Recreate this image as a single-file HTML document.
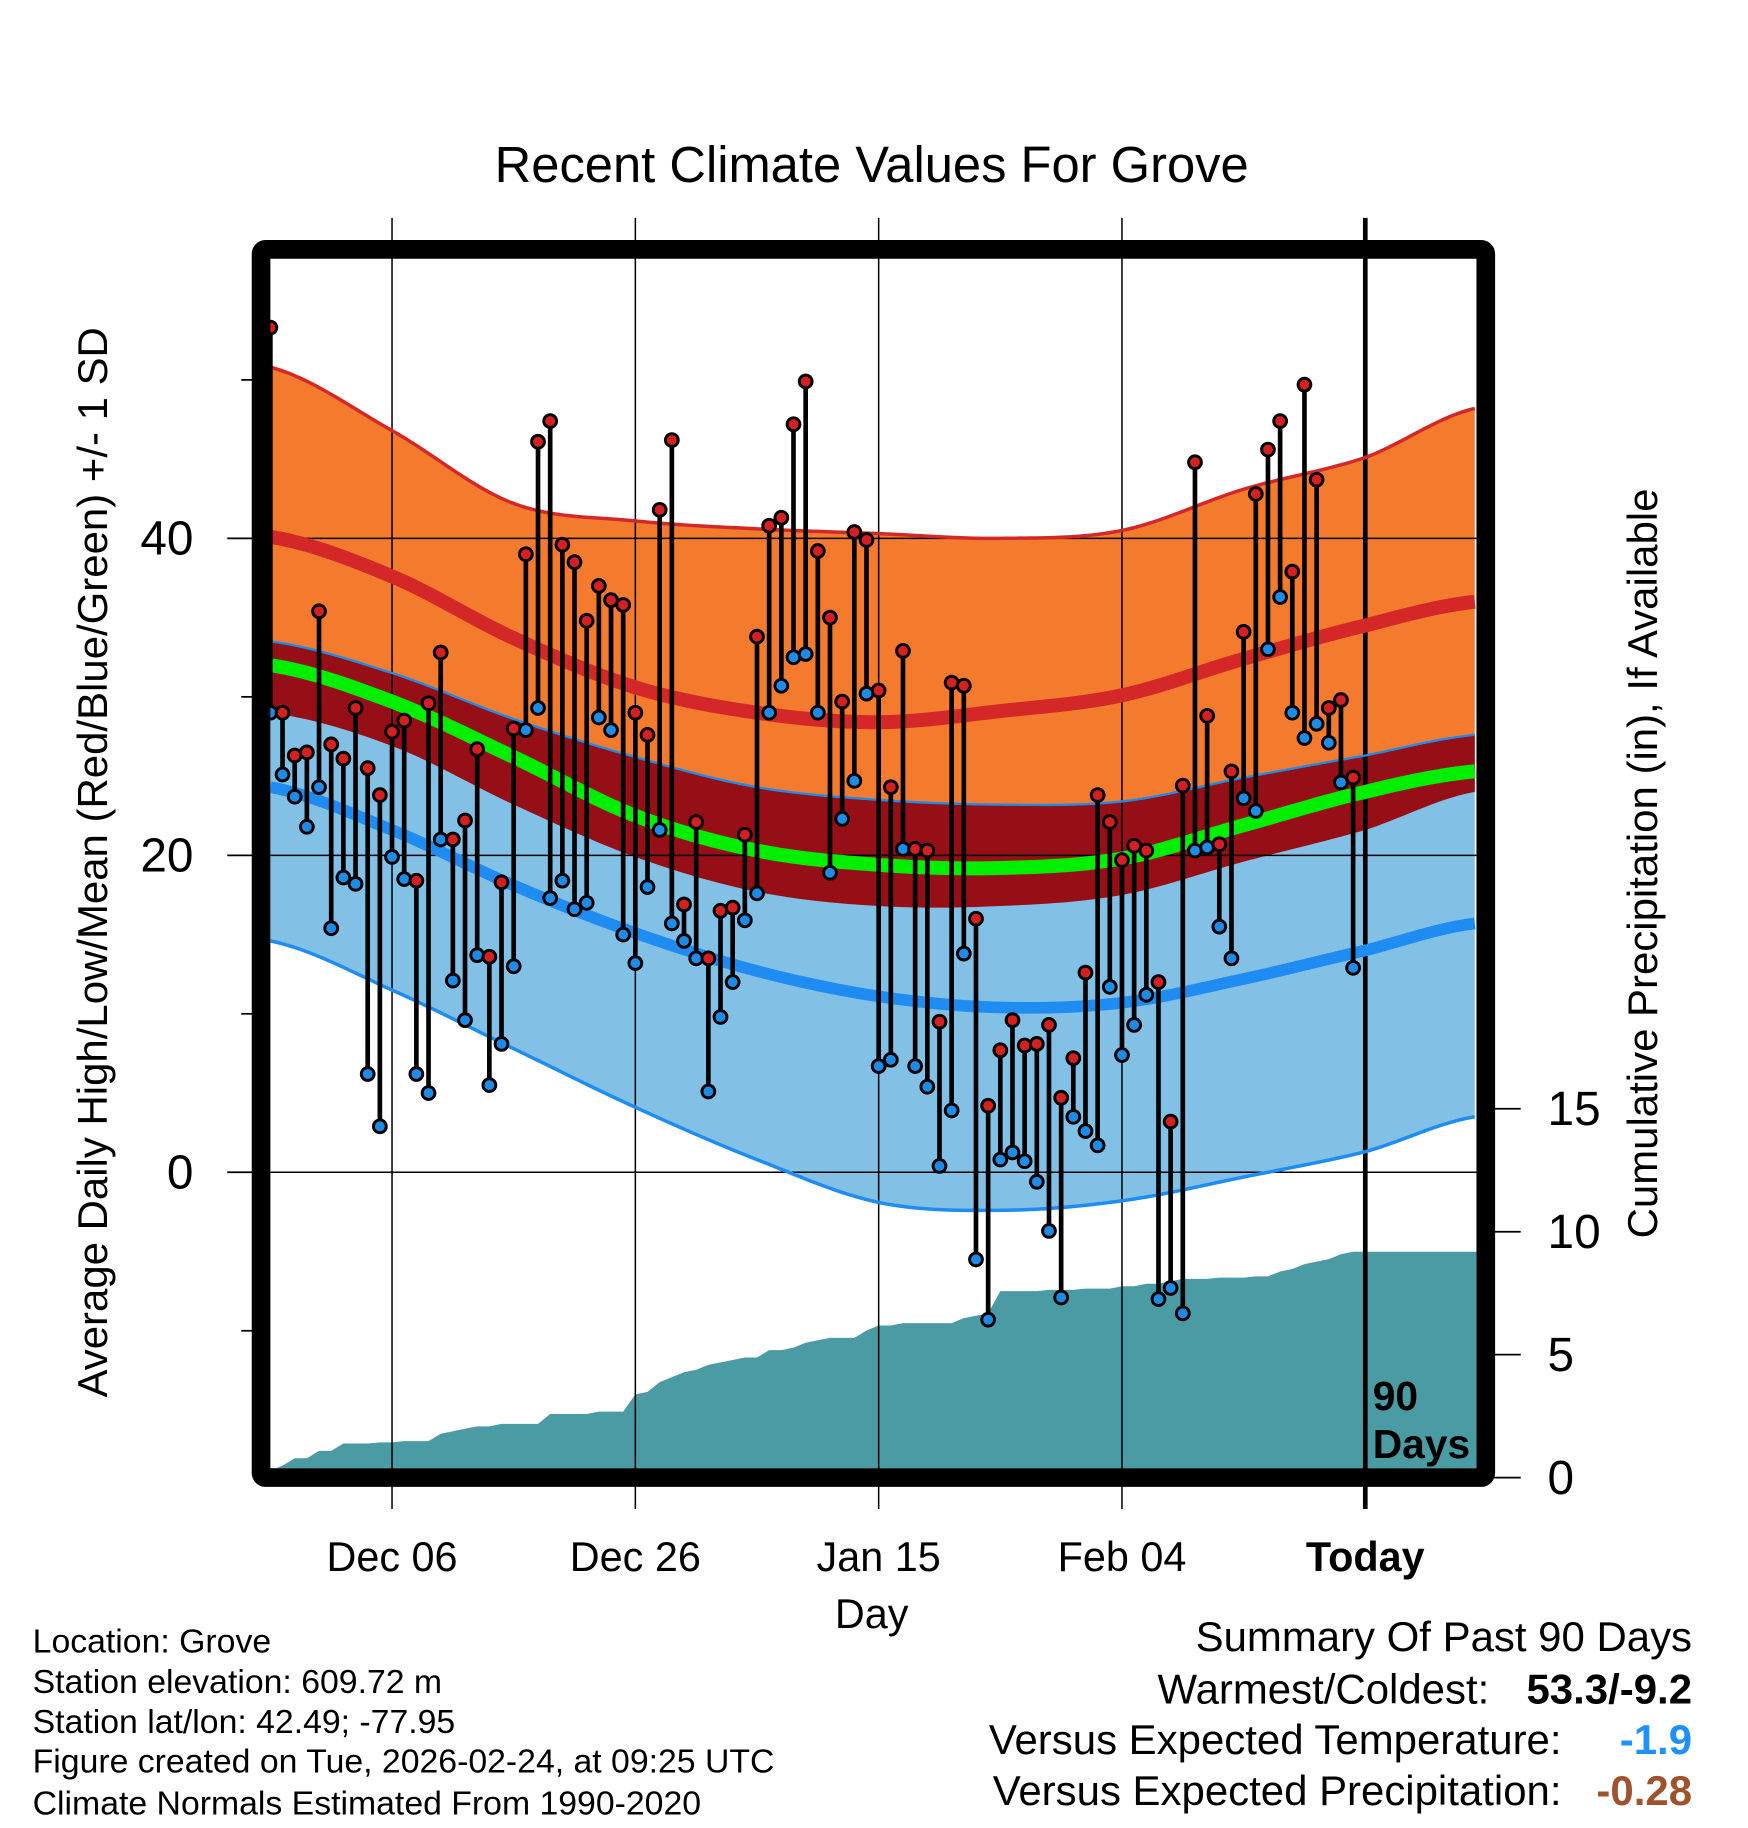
<!DOCTYPE html>
<html><head><meta charset="utf-8"><style>
html,body{margin:0;padding:0;background:#fff;}
svg{display:block;}
text{font-family:"Liberation Sans",Arial,sans-serif;fill:#000;}
</style></head><body>
<svg id="chart" width="1748" height="1828" viewBox="0 0 1500 1568.7" xmlns="http://www.w3.org/2000/svg">
<defs><clipPath id="plotclip"><rect x="232" y="222" width="1035" height="1038"/></clipPath></defs>
<rect x="0" y="0" width="1500" height="1568.7" fill="#fff"/>
<text x="748" y="156" font-size="43.5" text-anchor="middle">Recent Climate Values For Grove</text>
<g id="fills" clip-path="url(#plotclip)"></g>
<g id="grid"></g>
<g id="lines" clip-path="url(#plotclip)"></g>
<g id="marks"></g>
<g id="axes"></g>
<rect x="224" y="214" width="1051" height="1054" fill="none" stroke="#000" stroke-width="16" rx="4"/>
<text x="1178" y="1210" font-size="35" font-weight="bold">90</text>
<text x="1178" y="1251" font-size="35" font-weight="bold">Days</text>
<text x="748" y="1397" font-size="35.5" text-anchor="middle">Day</text>
<text transform="translate(92,740) rotate(-90)" font-size="36" text-anchor="middle">Average Daily High/Low/Mean (Red/Blue/Green) +/- 1 SD</text>
<text transform="translate(1422,741) rotate(-90)" font-size="36" text-anchor="middle">Cumulative Precipitation (in), If Available</text>
<g font-size="29">
<text x="28" y="1418">Location: Grove</text>
<text x="28" y="1453">Station elevation: 609.72 m</text>
<text x="28" y="1487">Station lat/lon: 42.49; -77.95</text>
<text x="28" y="1521">Figure created on Tue, 2026-02-24, at 09:25 UTC</text>
<text x="28" y="1557">Climate Normals Estimated From 1990-2020</text>
</g>
<g font-size="36">
<text x="1452" y="1417" text-anchor="end">Summary Of Past 90 Days</text>
<text x="1278" y="1462" text-anchor="end">Warmest/Coldest:</text>
<text x="1452" y="1462" text-anchor="end" font-weight="bold">53.3/-9.2</text>
<text x="1340" y="1505" text-anchor="end">Versus Expected Temperature:</text>
<text x="1452" y="1505" text-anchor="end" font-weight="bold" style="fill:#1e90ff">-1.9</text>
<text x="1340" y="1549" text-anchor="end">Versus Expected Precipitation:</text>
<text x="1452" y="1549" text-anchor="end" font-weight="bold" style="fill:#a0522d">-0.28</text>
</g>
</svg>
<script>
const highs=[53.3,29.0,26.3,26.5,35.4,27.0,26.1,29.3,25.5,23.8,27.8,28.5,18.4,29.6,32.8,21.0,22.2,26.7,13.6,18.3,28.0,39.0,46.1,47.4,39.6,38.5,34.8,37.0,36.1,35.8,29.0,27.6,41.8,46.2,16.9,22.1,13.5,16.5,16.7,21.3,33.8,40.8,41.3,47.2,49.9,39.2,35.0,29.7,40.4,39.9,30.4,24.3,32.9,20.4,20.3,9.5,30.9,30.7,16.0,4.2,7.7,9.6,8.0,8.1,9.3,4.7,7.2,12.6,23.8,22.1,19.7,20.6,20.3,12.0,3.2,24.4,44.8,28.8,20.7,25.3,34.1,42.8,45.6,47.4,37.9,49.7,43.7,29.3,29.8,24.9];
const lows=[29.0,25.1,23.7,21.8,24.3,15.4,18.6,18.2,6.2,2.9,19.9,18.5,6.2,5.0,21.0,12.1,9.6,13.7,5.5,8.1,13.0,27.9,29.3,17.3,18.4,16.6,17.0,28.7,27.9,15.0,13.2,18.0,21.6,15.7,14.6,13.5,5.1,9.8,12.0,15.9,17.6,29.0,30.7,32.5,32.7,29.0,18.9,22.3,24.7,30.2,6.7,7.1,20.4,6.7,5.4,0.4,3.9,13.8,-5.5,-9.3,0.8,1.25,0.7,-0.6,-3.7,-7.9,3.5,2.6,1.7,11.7,7.4,9.3,11.2,-8.0,-7.3,-8.9,20.3,20.5,15.5,13.5,23.6,22.8,33.0,36.3,29.0,27.4,28.3,27.1,24.6,12.9];
const precip=[0,0.2,0.5,0.5,0.8,0.8,1.1,1.1,1.1,1.15,1.15,1.2,1.2,1.2,1.5,1.6,1.7,1.8,1.8,1.9,1.9,1.9,1.9,2.3,2.3,2.3,2.3,2.4,2.4,2.4,3.1,3.2,3.6,3.8,4.0,4.1,4.3,4.4,4.5,4.6,4.6,4.9,4.9,5.0,5.2,5.3,5.4,5.4,5.4,5.7,5.9,5.9,6.0,6.0,6.0,6.0,6.0,6.2,6.3,6.4,7.3,7.3,7.3,7.3,7.35,7.35,7.35,7.4,7.4,7.4,7.5,7.5,7.6,7.6,7.7,7.8,7.8,7.8,7.85,7.85,7.85,7.9,7.9,8.1,8.2,8.4,8.5,8.6,8.8,8.9];
const normDays=[0,10,20,30,40,50,60,70,80,90,99];
const highPlusSD=[50.8,46.8,42.2,41.1,40.6,40.3,40.0,40.5,43.1,45.1,48.2];
const highMean=[40.1,37.6,33.7,30.6,29.0,28.4,29.1,30.1,32.4,34.5,36.0];
const highMinusSD=[29.0,26.9,23.2,19.9,17.7,16.8,16.8,17.5,19.6,21.6,24.0];
const dailyMean=[32.0,29.7,26.2,22.5,20.3,19.4,19.2,19.8,21.9,24.0,25.3];
const lowPlusSD=[33.5,31.5,28.6,26.2,24.3,23.5,23.2,23.4,24.9,26.3,27.6];
const lowMean=[24.3,21.6,18.1,15.1,12.7,11.1,10.4,10.7,12.2,14.0,15.7];
const lowMinusSD=[14.6,11.5,7.8,4.1,0.8,-1.9,-2.4,-1.8,-0.3,1.3,3.5];
const dateLabels=["Dec 06","Dec 26","Jan 15","Feb 04","Today"];
const dateDays=[10,30,50,70,90];
const yTicks=[-10,0,10,20,30,40,50];
const yLabels=[0,20,40];
const pTicks=[0,5,10,15];

const NS="http://www.w3.org/2000/svg";
const X=d=>232+10.44*d;
const Y=t=>1006-13.6*t;
const P=p=>1262-21.1*p;
function mk(tag,attrs,parent){const e=document.createElementNS(NS,tag);for(const k in attrs)e.setAttribute(k,attrs[k]);parent.appendChild(e);return e;}
function curve(vals){const pts=[];for(let d=0;d<=99;d+=0.5){let i=0;while(i<normDays.length-2&&d>normDays[i+1])i++;const t=(d-normDays[i])/(normDays[i+1]-normDays[i]);const p0=vals[Math.max(i-1,0)],p1=vals[i],p2=vals[i+1],p3=vals[Math.min(i+2,vals.length-1)];const v=0.5*((2*p1)+(-p0+p2)*t+(2*p0-5*p1+4*p2-p3)*t*t+(-p0+3*p1-3*p2+p3)*t*t*t);pts.push([X(d),Y(v)]);}return pts;}
function band(a,b){const A=curve(a),B=curve(b).reverse();return A.concat(B).map(p=>p.join(',')).join(' ');}
function line(a){return curve(a).map(p=>p.join(',')).join(' ');}

const fills=document.getElementById('fills');
let pp=[[X(0),1262]];
precip.forEach((v,i)=>{pp.push([X(i),P(v)]);});
pp.push([1267,P(precip[precip.length-1])],[1267,1262]);
const pa=mk('polygon',{points:pp.map(p=>p.join(',')).join(' '),fill:'#4a9ba3'},fills);


const ob=mk('polygon',{points:band(highPlusSD,highMinusSD),fill:'#f47b2e'},fills);


const lb=mk('polygon',{points:band(lowPlusSD,lowMinusSD),fill:'#82c0e6'},fills);


const db=mk('polygon',{points:band(lowPlusSD,highMinusSD),fill:'#960e16'},fills);



const grid=document.getElementById('grid');
yLabels.forEach(t=>{const g=mk('line',{x1:232,x2:1267,y1:Y(t),y2:Y(t),stroke:'#000','stroke-width':1.3},grid);

});
dateDays.forEach((d,i)=>{const g=mk('line',{x1:X(d),x2:X(d),y1:187,y2:1295,stroke:'#000','stroke-width':i===4?4:1.3},grid);

});

const lines=document.getElementById('lines');
const l1=mk('polyline',{points:line(highPlusSD),fill:'none',stroke:'#d42828','stroke-width':3},lines);


const l2=mk('polyline',{points:line(highMean),fill:'none',stroke:'#d42828','stroke-width':12},lines);


const l3=mk('polyline',{points:line(lowPlusSD),fill:'none',stroke:'#1e8ce6','stroke-width':2},lines);


const l4=mk('polyline',{points:line(dailyMean),fill:'none',stroke:'#00ee00','stroke-width':12},lines);


const l5=mk('polyline',{points:line(lowMean),fill:'none',stroke:'#1e8cf0','stroke-width':10},lines);


const l6=mk('polyline',{points:line(lowMinusSD),fill:'none',stroke:'#1e8cf0','stroke-width':3},lines);



const marks=document.getElementById('marks');
highs.forEach((h,i)=>{
 const s=mk('line',{x1:X(i),x2:X(i),y1:Y(h),y2:Y(lows[i]),stroke:'#000','stroke-width':4},marks);
 
 
});
highs.forEach((h,i)=>{
 const a=mk('circle',{cx:X(i),cy:Y(h),r:5.5,fill:'#d42020',stroke:'#000','stroke-width':2.5},marks);
 
 
 const b=mk('circle',{cx:X(i),cy:Y(lows[i]),r:5.5,fill:'#1e8ce6',stroke:'#000','stroke-width':2.5},marks);
 
 
});

const axes=document.getElementById('axes');
yTicks.forEach(t=>{const major=yLabels.includes(t);const tk=mk('line',{x1:major?195:207,x2:220,y1:Y(t),y2:Y(t),stroke:'#000','stroke-width':1.5},axes);


if(major){const tx=mk('text',{x:166,y:Y(t)+14,'font-size':41,'text-anchor':'end'},axes);tx.textContent=t;

}});
pTicks.forEach(p=>{const tk=mk('line',{x1:1280,x2:1305,y1:P(p)+6,y2:P(p)+6,stroke:'#000','stroke-width':1.5},axes);


const tx=mk('text',{x:1328,y:P(p)+20,'font-size':41},axes);tx.textContent=p;

});
dateLabels.forEach((l,i)=>{const tx=mk('text',{x:X(dateDays[i]),y:1348,'font-size':35.5,'text-anchor':'middle','font-weight':i===4?'bold':'normal'},axes);tx.textContent=l;

});
</script>
</body></html>
